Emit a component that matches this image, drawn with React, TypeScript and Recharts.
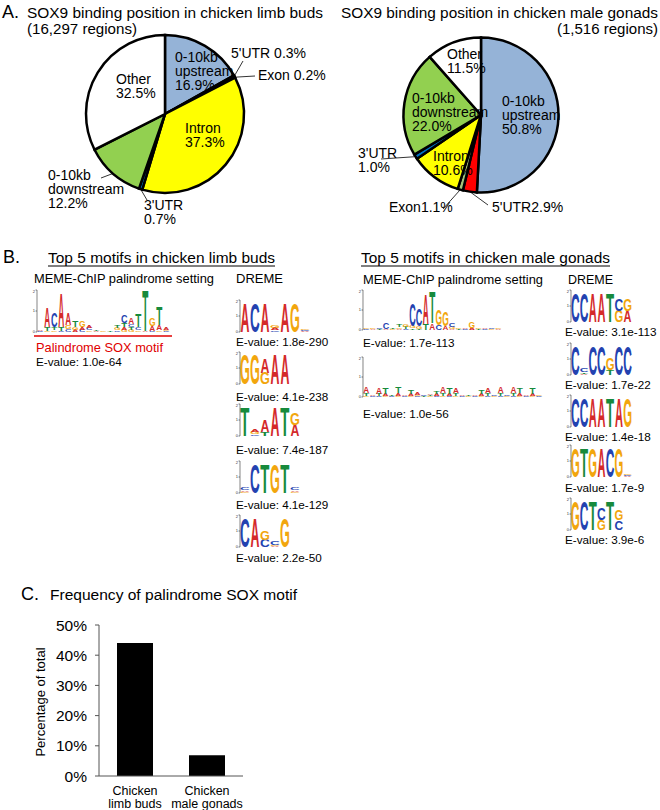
import React from 'react';
import { PieChart, Pie, Cell, BarChart, Bar, XAxis, YAxis } from 'recharts';

const FONT = "'Liberation Sans', Arial, Helvetica, sans-serif";

// panel A
const REGIONS = ['0-10kb upstream', "5'UTR", 'Exon', 'Intron', "3'UTR", '0-10kb downstream', 'Other'];
const REGION_COLORS = ['#95b3d7', '#ff0000', '#a4c27a', '#ffff00', '#0070c0', '#92d050', '#ffffff'];
const LIMB_PCT = [16.9, 0.3, 0.2, 37.3, 0.7, 12.2, 32.5];
const GONAD_PCT = [50.8, 2.9, 1.1, 10.6, 1.0, 22.0, 11.5];

// panel B, letters listed bottom -> top, height in bits
const MEME_LIMB = [
  'C.05 A.05', 'G.05 T.2 A.95', 'G.08 T.15 C.7', 'C.05 T.2 A1.65', 'C.15 G.2 A.55',
  'A.1 G.15 T.3', 'C.1 A.15 G.3', 'G.08 C.1 A.15', 'A.05 T.05', 'G.03', 'T.03',
  'C.08 G.1 T.12', 'G.1 A.15 T.2 C.35', 'G.1 T.15 C.15 A.3', 'G.08 C.15 T.6',
  'A.03 T1.95', 'C.05 A.25 G.4', 'G.08 A.25 T.9', 'C.05 G.05 A.1',
];
const MEME_GONAD_1 = [
  'C.04 G.06', 'A.04 G.06', 'T.04 C.06', 'A.05 C.3', 'G.03 T.05', 'A.05 G.08 T.1',
  'C.05 T.1 G.15', 'T.08 G.1 C1.1', 'T.05 G.15 C.85', 'T.3 A1.5', 'A.35 T1.6',
  'C.25 G.8', 'A.2 G.75', 'A.06 G.1 C.2', 'T.05 G.06', 'C.06 A.08', 'A.1 G.3',
  'T.04 G.06', 'C.05 A.06', 'G.05 C.07', 'A.05 G.06',
];
const MEME_GONAD_2 = [
  'G.05 T.15 A.3', 'C.05 A.08', 'C.05 T.1 A.3', 'G.05 A.12 T.3', 'C.05 T.05',
  'G.05 A.15 T.3', 'C.05 A.06', 'G.05 A.1 T.2', 'C.05 G.06 A.1', 'T.05 C.06',
  'G.05 T.06 A.08', 'C.05 A.1 T.15', 'G.05 T.15 A.3', 'C.05 A.1 T.3', 'G.05 T.15 A.25',
  'C.05 A.06', 'G.05 T.06', 'C.05 A.08', 'G.05 A.1 T.2', 'C.05 T.15 A.25', 'G.05 C.06',
  'C.05 T.15 A.3', 'G.05 C.06', 'C.05 T.15 A.3', 'G.05 A.15 T.25', 'C.05 A.06',
  'G.05 A.12 T.3', 'C.05 G.06',
];
const DREME_LIMB = [
  ['A1.85', 'C1.85', 'A1.85', 'C.1 A.12 G.15', 'A1.85', 'G1.85', 'A.06 C.08 G.1'],
  ['G1.9', 'G1.9', 'G.7 A.9', 'A1.9', 'A1.9'],
  ['T1.85', 'C.1 G.12 A.15', 'T.25 A.75', 'A1.85', 'T1.85', 'A.7 G.75'],
  ['G.08 A.1 C.12', 'C1.85', 'T1.85', 'G1.85', 'T1.85', 'G.08 A.1 C.12'],
  ['C1.85', 'A1.85', 'C.45 G.6', 'A.05 G.1 C.25', 'G1.85'],
];
const DREME_GONAD = [
  ['C1.85', 'C1.85', 'A1.85', 'A1.85', 'T1.85', 'G.7 C.75', 'A.7 G.75'],
  ['C1.85', 'A.06 T.1 C.2', 'C1.85', 'C1.85', 'T.3 G.7', 'C1.85', 'C1.85'],
  ['C1.85', 'C1.85', 'A1.85', 'A1.85', 'T1.85', 'A1.85', 'G1.85'],
  ['G1.85', 'T1.85', 'G1.85', 'A1.85', 'C1.85', 'G1.85', 'A.05 C.06 G.08'],
  ['G1.85', 'C1.85', 'T1.85', 'G.65 C.7', 'T1.85', 'C.6 G.65'],
];
const DREME_LIMB_EVALUES = ['1.8e-290', '4.1e-238', '7.4e-187', '4.1e-129', '2.2e-50'];
const DREME_GONAD_EVALUES = ['3.1e-113', '1.7e-22', '1.4e-18', '1.7e-9', '3.9e-6'];
const MEME_LIMB_EVALUE = '1.0e-64';
const MEME_GONAD_EVALUES = ['1.7e-113', '1.0e-56'];

// panel C
const SITES = ['Chicken\nlimb buds', 'Chicken\nmale gonads'];
const PALINDROME_SHARE = [44.0, 6.9];
const PCT_TICKS = [0, 10, 20, 30, 40, 50];

const BASE_COLORS: Record<string, string> = { A: '#d42a2a', C: '#2342b0', G: '#f2a60d', T: '#178a3c' };
const INK_W: Record<string, number> = { A: 0.7, C: 0.64, G: 0.68, T: 0.58 };

const LIMB_LABELS = [
  { x: 175, y: 62, lines: ['0-10kb', 'upstream', '{v}'] },
  { x: 231, y: 58, lines: ["5'UTR {v}"], to: [243, 61] },
  { x: 258, y: 80, lines: ['Exon {v}'], to: [255, 76] },
  { x: 185, y: 133, lines: ['Intron', '{v}'] },
  { x: 144, y: 210, lines: ["3'UTR", '{v}'], to: [147, 200] },
  { x: 48, y: 180, lines: ['0-10kb', 'downstream', '{v}'], to: [101, 178] },
  { x: 116, y: 84, lines: ['Other', '{v}'] },
];
const GONAD_LABELS = [
  { x: 502, y: 106, lines: ['0-10kb', 'upstream', '{v}'] },
  { x: 492, y: 212, lines: ["5'UTR{v}"], to: [488, 205] },
  { x: 389, y: 212, lines: ['Exon{v}'], to: [443, 209] },
  { x: 433, y: 161, lines: ['Intron', '{v}'] },
  { x: 358, y: 158, lines: ["3'UTR", '{v}'], to: [381, 159] },
  { x: 412, y: 103, lines: ['0-10kb', 'downstream', '{v}'] },
  { x: 447, y: 59, lines: ['Other', '{v}'] },
];

const pieRows = (pct: number[]) => REGIONS.map((name, i) => ({ name, pct: pct[i] }));

const sliceLabel = (layout: any[]) => (p: any) => {
  const L = layout[p.index];
  if (!L) return null;
  const v = `${Number(p.payload?.pct ?? p.value).toFixed(1)}%`;
  const rad = Math.PI / 180;
  const ex = p.cx + p.outerRadius * Math.cos(-p.midAngle * rad);
  const ey = p.cy + p.outerRadius * Math.sin(-p.midAngle * rad);
  return (
    <g>
      {L.to && <line x1={ex} y1={ey} x2={L.to[0]} y2={L.to[1]} stroke="#000" strokeWidth={0.8} />}
      <text x={L.x} y={L.y} fontSize={14} fontFamily={FONT} fill="#000">
        {L.lines.map((t: string, i: number) => (
          <tspan key={i} x={L.x} dy={i ? 14 : 0}>{t.replace('{v}', v)}</tspan>
        ))}
      </text>
    </g>
  );
};

const parsePos = (s: string, i: number) => {
  const row: any = { i: i + 1 };
  s.split(' ').forEach((tok, k) => {
    row[`c${k}`] = tok[0];
    row[`v${k}`] = parseFloat(tok.slice(1));
  });
  return row;
};

const letterShape = (level: number, rows: any[]) => (p: any) => {
  const row = p.payload ?? rows[p.index];
  const ch = row?.[`c${level}`];
  if (!ch || !(p.height > 0.2)) return <g />;
  const fs = 100;
  const sx = (p.width * 0.96) / (INK_W[ch] * fs);
  const sy = p.height / (0.716 * fs);
  return (
    <text
      transform={`translate(${p.x + p.width / 2},${p.y + p.height}) scale(${sx},${sy})`}
      fontSize={fs}
      fontWeight="bold"
      fontFamily={FONT}
      textAnchor="middle"
      fill={BASE_COLORS[ch]}
    >
      {ch}
    </text>
  );
};

function Logo({ motif, x, base, step, h }: { motif: string[]; x: number; base: number; step: number; h: number }) {
  const rows = motif.map(parsePos);
  const axisW = 8;
  const xAxisH = 4;
  return (
    <div style={{ position: 'absolute', left: x - axisW, top: base - h - 1 }}>
      <BarChart
        width={axisW + motif.length * step + 1}
        height={h + 1 + xAxisH}
        data={rows}
        margin={{ top: 1, right: 1, bottom: 0, left: 0 }}
        barCategoryGap="4%"
      >
        <XAxis dataKey="i" height={xAxisH} tick={false} tickLine={false} axisLine={false} />
        <YAxis
          width={axisW}
          domain={[0, 2]}
          ticks={[0, 1, 2]}
          tick={{ fontSize: 4, fill: '#333' }}
          tickSize={1.5}
          tickMargin={0.5}
          axisLine={{ stroke: '#333', strokeWidth: 0.6 }}
          tickLine={{ stroke: '#333', strokeWidth: 0.6 }}
        />
        {[0, 1, 2, 3].map((k) => (
          <Bar key={k} dataKey={`v${k}`} stackId="s" isAnimationActive={false} shape={letterShape(k, rows)} />
        ))}
      </BarChart>
    </div>
  );
}

const SiteTick = (p: any) => {
  const [a, b] = String(p.payload.value).split('\n');
  return (
    <text x={p.x} y={p.y} textAnchor="middle" fontSize={12.5} fontFamily={FONT} fill="#000">
      <tspan x={p.x} dy={17}>{a}</tspan>
      <tspan x={p.x} dy={13}>{b}</tspan>
    </text>
  );
};

function T({ x, y, size, w, fill = '#000', anchor = 'start', children }: any) {
  return (
    <text
      x={x}
      y={y}
      fontSize={size}
      fontFamily={FONT}
      fill={fill}
      textAnchor={anchor}
      textLength={w}
      lengthAdjust={w ? 'spacingAndGlyphs' : undefined}
    >
      {children}
    </text>
  );
}

export default function App() {
  const barRows = SITES.map((site, i) => ({ site, share: PALINDROME_SHARE[i] }));
  const dremeLimbBase = [332, 384, 436, 493, 547];
  const dremeGonadBase = [322, 375, 427, 477, 530];
  const dremeLimbEv = [345.5, 400.5, 453.5, 508.5, 561.5];
  const dremeGonadEv = [335.5, 388.5, 440.5, 491.5, 543.5];

  return (
    <div style={{ position: 'absolute', left: 0, top: 0, width: 660, height: 810, background: '#fff', fontFamily: FONT }}>
      <div style={{ position: 'absolute', left: 0, top: 0 }}>
        <PieChart width={660} height={230} margin={{ top: 0, right: 0, bottom: 0, left: 0 }}>
          <Pie
            data={pieRows(LIMB_PCT)}
            dataKey="pct"
            cx={165}
            cy={114}
            outerRadius={79}
            startAngle={90}
            endAngle={-270}
            stroke="#000"
            strokeWidth={2.5}
            label={sliceLabel(LIMB_LABELS)}
            labelLine={false}
            isAnimationActive={false}
          >
            {REGIONS.map((r, i) => <Cell key={r} fill={REGION_COLORS[i]} />)}
          </Pie>
          <Pie
            data={pieRows(GONAD_PCT)}
            dataKey="pct"
            cx={481}
            cy={115}
            outerRadius={77.5}
            startAngle={90}
            endAngle={-270}
            stroke="#000"
            strokeWidth={2.5}
            label={sliceLabel(GONAD_LABELS)}
            labelLine={false}
            isAnimationActive={false}
          >
            {REGIONS.map((r, i) => <Cell key={r} fill={REGION_COLORS[i]} />)}
          </Pie>
        </PieChart>
      </div>

      <Logo motif={MEME_LIMB} x={37} base={332} step={7} h={42} />
      <Logo motif={MEME_GONAD_1} x={363} base={330} step={6.6} h={40} />
      <Logo motif={MEME_GONAD_2} x={363} base={397} step={6.4} h={40} />
      {DREME_LIMB.map((m, i) => (
        <Logo key={`dl${i}`} motif={m} x={240} base={dremeLimbBase[i]} step={10} h={32} />
      ))}
      {DREME_GONAD.map((m, i) => (
        <Logo key={`dg${i}`} motif={m} x={571} base={dremeGonadBase[i]} step={8.7} h={32} />
      ))}

      <div style={{ position: 'absolute', left: 0, top: 560 }}>
        <BarChart width={250} height={250} data={barRows} margin={{ top: 65, right: 7, bottom: 0, left: 0 }} barCategoryGap="25%">
          <XAxis
            dataKey="site"
            height={34}
            tick={<SiteTick />}
            tickLine={false}
            tickSize={0}
            axisLine={{ stroke: '#555', strokeWidth: 1 }}
            interval={0}
          />
          <YAxis
            width={99}
            domain={[0, 50]}
            ticks={PCT_TICKS}
            tickFormatter={(v: number) => `${v}%`}
            tick={{ fontSize: 15.5, fill: '#000', fontFamily: FONT }}
            tickSize={4}
            tickMargin={8}
            axisLine={{ stroke: '#555', strokeWidth: 1 }}
            tickLine={{ stroke: '#555', strokeWidth: 1 }}
          />
          <Bar dataKey="share" fill="#000" isAnimationActive={false} />
        </BarChart>
      </div>

      <svg width={660} height={810} style={{ position: 'absolute', left: 0, top: 0, pointerEvents: 'none' }}>
        <T x={2} y={18} size={18}>A.</T>
        <T x={27} y={17.5} size={15.5} w={296}>SOX9 binding position in chicken limb buds</T>
        <T x={27} y={34} size={15.5} w={110}>(16,297 regions)</T>
        <T x={341} y={17.5} size={15.5} w={317}>SOX9 binding position in chicken male gonads</T>
        <T x={658} y={34} size={15.5} w={101} anchor="end">(1,516 regions)</T>

        <T x={3} y={263} size={18}>B.</T>
        <T x={48} y={263} size={15.5} w={227}>Top 5 motifs in chicken limb buds</T>
        <line x1={48} x2={275} y1={266} y2={266} stroke="#000" strokeWidth={1} />
        <T x={361} y={263} size={15.5} w={249}>Top 5 motifs in chicken male gonads</T>
        <line x1={361} x2={610} y1={266} y2={266} stroke="#000" strokeWidth={1} />

        <T x={34} y={283} size={13.5} w={180}>MEME-ChIP palindrome setting</T>
        <T x={236} y={283} size={13.5} w={47}>DREME</T>
        <T x={363} y={284} size={13.5} w={180}>MEME-ChIP palindrome setting</T>
        <T x={568} y={284} size={13.5} w={45}>DREME</T>

        <line x1={34} x2={172} y1={336} y2={336} stroke="#e00000" strokeWidth={1.5} />
        <T x={36} y={352} size={13} w={127} fill="#e00000">Palindrome SOX motif</T>
        <T x={36} y={366} size={11.7}>E-value: {MEME_LIMB_EVALUE}</T>
        <T x={363} y={346.5} size={11.7}>E-value: {MEME_GONAD_EVALUES[0]}</T>
        <T x={363} y={417.5} size={11.7}>E-value: {MEME_GONAD_EVALUES[1]}</T>
        {DREME_LIMB_EVALUES.map((e, i) => (
          <T key={e} x={236} y={dremeLimbEv[i]} size={11.7}>E-value: {e}</T>
        ))}
        {DREME_GONAD_EVALUES.map((e, i) => (
          <T key={e} x={565} y={dremeGonadEv[i]} size={11.7}>E-value: {e}</T>
        ))}

        <T x={21} y={600} size={18}>C.</T>
        <T x={50} y={599.5} size={15.5} w={247}>Frequency of palindrome SOX motif</T>
        <text transform="translate(44.5,702) rotate(-90)" textAnchor="middle" fontSize={13} fontFamily={FONT} fill="#000">
          Percentage of total
        </text>
      </svg>
    </div>
  );
}
